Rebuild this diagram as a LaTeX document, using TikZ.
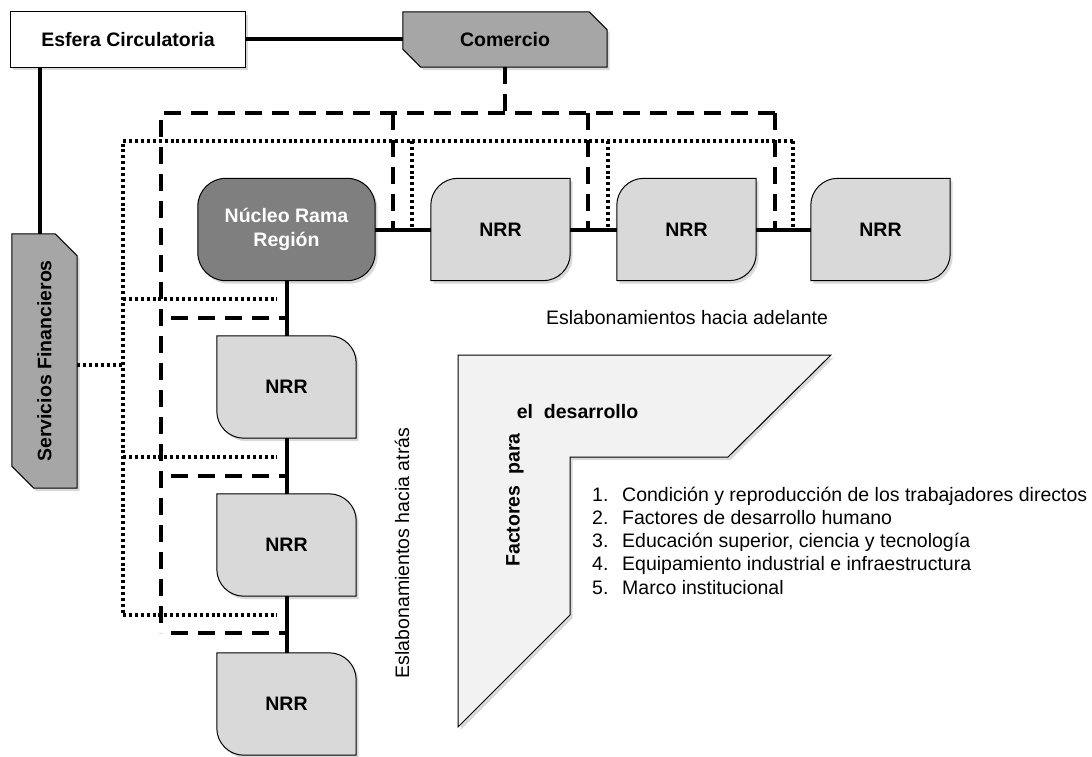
\documentclass[tikz,border=0pt]{standalone}
\usepackage{fontspec}
\setmainfont{Liberation Sans}
\usetikzlibrary{shadows,backgrounds,calc}
\definecolor{boxdark}{HTML}{7F7F7F}
\definecolor{boxmid}{HTML}{A6A6A6}
\definecolor{boxlight}{HTML}{D9D9D9}
\definecolor{lshapefill}{HTML}{F2F2F2}
\tikzset{
  holder/.style={inner sep=0pt, align=center, font=\bfseries\fontsize{19.5}{24}\selectfont},
  lbl/.style={inner sep=0pt, font=\fontsize{19.5}{23.4}\selectfont},
  shp/.style={draw=black, line width=1pt, drop shadow={shadow xshift=2.5pt, shadow yshift=-3pt, opacity=0.3}},
  solidlink/.style={draw=black, line width=4pt},
  dashlink/.style={draw=black, line width=4pt, dash pattern=on 17pt off 10pt},
  dotlink/.style={draw=black, line width=3.3pt, dash pattern=on 3pt off 2.9pt},
}
\newcommand\nrrHshape[1]{\path[shp, fill=boxlight] ([yshift=-27pt]#1.north west) arc[start angle=180, end angle=90, radius=27pt] -- (#1.north east) -- ([yshift=27pt]#1.south east) arc[start angle=0, end angle=-90, radius=27pt] -- (#1.south west) -- cycle;}
\newcommand\nrrVshape[1]{\path[shp, fill=boxlight] (#1.north west) -- ([xshift=-27pt]#1.north east) arc[start angle=90, end angle=0, radius=27pt] -- (#1.south east) -- ([xshift=27pt]#1.south west) arc[start angle=270, end angle=180, radius=27pt] -- cycle;}
\begin{document}
\begin{tikzpicture}[x=1pt, y=1pt]
\useasboundingbox (0,0) rectangle (1092,-757);
% nodes
\node[holder, minimum width=234pt, minimum height=55pt] (esfera) at (128,-39.5) {Esfera Circulatoria};
\node[holder, minimum width=204pt, minimum height=55pt] (comercio) at (505,-39.5) {Comercio};
\node[holder, minimum width=65pt, minimum height=254pt] (servicios) at (44.5,-361) {};
\node[holder, rotate=90] (servtext) at (44.5,-361) {Servicios Financieros};
\node[holder, minimum width=177pt, minimum height=102pt, text=white] (nucleo) at (286.5,-229.5) {Núcleo Rama\\Región};
\node[holder, minimum width=139pt, minimum height=102pt] (h1) at (500.5,-229.5) {NRR};
\node[holder, minimum width=139pt, minimum height=102pt] (h2) at (686.5,-229.5) {NRR};
\node[holder, minimum width=139pt, minimum height=102pt] (h3) at (880.5,-229.5) {NRR};
\node[holder, minimum width=139pt, minimum height=102pt] (v1) at (286.5,-387) {NRR};
\node[holder, minimum width=139pt, minimum height=102pt] (v2) at (286.5,-545) {NRR};
\node[holder, minimum width=139pt, minimum height=102pt] (v3) at (286.5,-704) {NRR};
% shapes behind
\begin{pgfonlayer}{background}
\path[shp, fill=white] (esfera.south west) rectangle (esfera.north east);
\path[shp, fill=boxmid] (comercio.north west) -- ([xshift=-18pt]comercio.north east) -- ([yshift=-18pt]comercio.north east) -- (comercio.south east) -- ([xshift=18pt]comercio.south west) -- ([yshift=18pt]comercio.south west) -- cycle;
\path[shp, fill=boxmid] (servicios.north west) -- ([xshift=-22pt]servicios.north east) -- ([yshift=-22pt]servicios.north east) -- (servicios.south east) -- ([xshift=22pt]servicios.south west) -- ([yshift=22pt]servicios.south west) -- cycle;
\path[shp, fill=boxdark, rounded corners=28pt] (nucleo.south west) rectangle (nucleo.north east);
\nrrHshape{h1}
\nrrHshape{h2}
\nrrHshape{h3}
\nrrVshape{v1}
\nrrVshape{v2}
\nrrVshape{v3}
\path[shp, fill=lshapefill] (458,-355) -- (831,-355) -- (728,-457) -- (570,-457) -- (570,-615) -- (458,-727) -- cycle;
\end{pgfonlayer}
% solid connectors
\draw[solidlink] (esfera) -- (comercio);
\draw[solidlink] ([xshift=29pt]esfera.south west) -- ([xshift=28pt]servicios.north west);
\draw[solidlink] (nucleo) -- (h1);
\draw[solidlink] (h1) -- (h2);
\draw[solidlink] (h2) -- (h3);
\draw[solidlink] (nucleo) -- (v1);
\draw[solidlink] (v1) -- (v2);
\draw[solidlink] (v2) -- (v3);
% dashed (comercio)
\coordinate (dA) at (161,-113);
\coordinate (dB) at (775,-113);
\draw[dashlink] (comercio.south) -- (comercio.south |- dA);
\draw[dashlink] (dB) -- (dA) -- (161,-633);
\draw[dashlink] (393,-113) -- (393,-228);
\draw[dashlink] (588,-113) -- (588,-228);
\draw[dashlink] (775,-113) -- (775,-228);
\draw[dashlink, dash phase=17pt] (161,-318) -- (287,-318);
\draw[dashlink, dash phase=17pt] (161,-476) -- (287,-476);
\draw[dashlink, dash phase=17pt] (161,-633) -- (287,-633);
% dotted (servicios)
\coordinate (sA) at (123,-141);
\coordinate (sB) at (793,-141);
\draw[dotlink] ([yshift=-4pt]servicios.east) -- (123,-365);
\draw[dotlink] (sB) -- (sA) -- (123,-615);
\draw[dotlink] (412,-141) -- (412,-228);
\draw[dotlink] (608,-141) -- (608,-228);
\draw[dotlink] (793,-141) -- (793,-228);
\draw[dotlink] (123,-299) -- (277,-299);
\draw[dotlink] (123,-457) -- (277,-457);
\draw[dotlink] (123,-615) -- (277,-615);
% labels
\node[lbl] (adelante) at (687,-318) {Eslabonamientos hacia adelante};
\node[lbl, rotate=90] (atras) at (402,-553) {Eslabonamientos hacia atrás};
\node[holder] (desarrollo) at (577.5,-412) {el\ \ desarrollo};
\node[holder, rotate=90] (factores) at (515,-500) {Factores\ \ para};
\node[lbl, anchor=base west] (li1) at (592,-501) {\makebox[30pt][l]{1.}Condición y reproducción de los trabajadores directos};
\node[lbl, anchor=base west] (li2) at (592,-524.3) {\makebox[30pt][l]{2.}Factores de desarrollo humano};
\node[lbl, anchor=base west] (li3) at (592,-547.6) {\makebox[30pt][l]{3.}Educación superior, ciencia y tecnología};
\node[lbl, anchor=base west] (li4) at (592,-570.9) {\makebox[30pt][l]{4.}Equipamiento industrial e infraestructura};
\node[lbl, anchor=base west] (li5) at (592,-594.2) {\makebox[30pt][l]{5.}Marco institucional};
\end{tikzpicture}
\end{document}
